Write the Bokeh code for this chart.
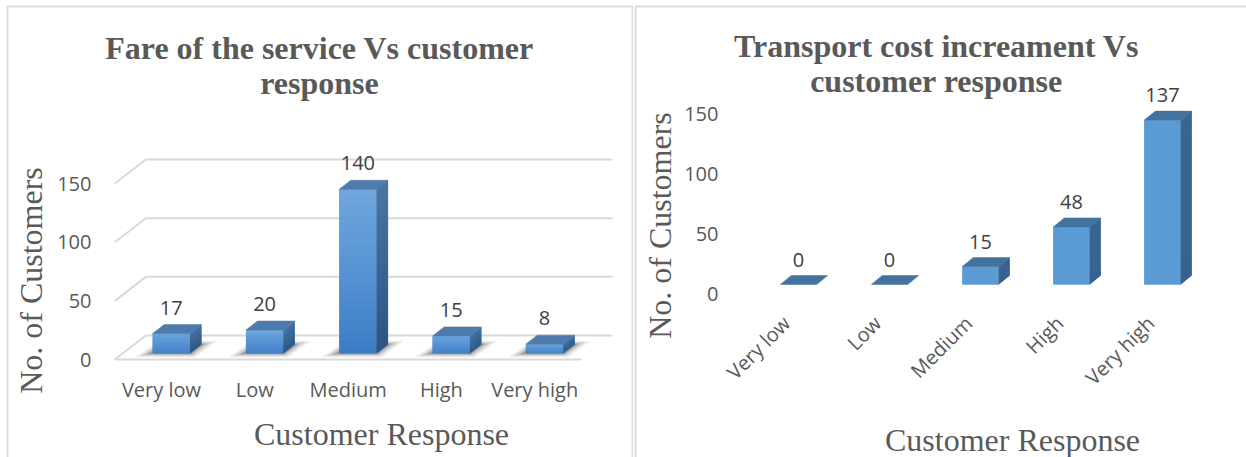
import math
from bokeh.plotting import figure
from bokeh.models import FixedTicker, Label, Range1d
from bokeh.layouts import row
from bokeh.core.properties import value
from bokeh.embed import file_html
from bokeh.resources import INLINE

# ---------------- data ----------------
categories = ["Very low", "Low", "Medium", "High", "Very high"]
fare_counts = [17, 20, 140, 15, 8]
cost_counts = [0, 0, 15, 48, 137]
y_ticks = [0, 50, 100, 150]
fare_title = ["Fare of the service Vs customer", "response"]
cost_title = ["Transport cost increament Vs", "customer response"]
x_title = "Customer Response"
y_title = "No. of Customers"

# ---------------- style ----------------
TICK_FONT = "Open Sans"
SERIF = "Liberation Serif"
GRAY = "#595959"
DARK = "#404040"
GRID = "#d9d9d9"
BORDER = "#dcdcdc"


def hex2rgb(h):
    h = h.lstrip("#")
    return tuple(int(h[i:i + 2], 16) for i in (0, 2, 4))


def mix(c1, c2, t):
    a, b = hex2rgb(c1), hex2rgb(c2)
    return "#%02x%02x%02x" % tuple(int(round(a[i] + (b[i] - a[i]) * t)) for i in range(3))


def make_panel(W, H, cat0, step, zero, ppu, counts, title_lines, title_pos,
               xt_pos, yt_pos, yaxis_px, xaxis_py, bar_off, base, bdx, bdy, lab_gap,
               front, side, top_c, rotate, ystand, xstand, grid, shadow, border):
    X = lambda px: (px - cat0) / step
    Y = lambda py: (zero - py) / ppu
    p = figure(width=W, height=H, output_backend="svg", toolbar_location=None,
               x_range=Range1d(X(0), X(W)), y_range=Range1d(Y(H), Y(0)),
               min_border=0, min_border_left=0, min_border_right=0,
               min_border_top=0, min_border_bottom=0)
    p.title.visible = False
    p.outline_line_color = None
    p.xgrid.visible = False
    p.ygrid.visible = False
    p.background_fill_color = "white"
    p.border_fill_color = "white"

    # panel border
    bx, by = border
    p.line([X(v) for v in bx], [Y(v) for v in by], line_color=BORDER, line_width=2)

    # axes (fixed inside the canvas)
    p.yaxis.ticker = FixedTicker(ticks=y_ticks)
    p.xaxis.ticker = FixedTicker(ticks=list(range(len(categories))))
    p.xaxis.major_label_overrides = {i: c for i, c in enumerate(categories)}
    p.yaxis.fixed_location = X(yaxis_px)
    p.xaxis.fixed_location = Y(xaxis_py)
    for ax in (p.xaxis, p.yaxis):
        ax.axis_line_color = None
        ax.major_tick_line_color = None
        ax.minor_tick_line_color = None
        ax.major_label_text_font = TICK_FONT
        ax.major_label_text_font_size = "20px"
        ax.major_label_text_color = GRAY
    p.yaxis.major_label_standoff = ystand
    p.xaxis.major_label_standoff = xstand
    if rotate:
        p.xaxis.major_label_orientation = math.pi / 4

    hw = 0.2
    n = len(counts)

    # 3D gridlines
    if grid is not None:
        gx0, gx_end = X(grid[0]), X(grid[1])
        gdx = 31 / step
        gdy = 24 / ppu
        xs, ys = [], []
        for t in y_ticks:
            xs.append([gx0, gx0 + gdx, gx_end])
            ys.append([t, t + gdy, t + gdy])
        xs.append([gx0, n - 0.5])
        ys.append([y_ticks[0], y_ticks[0]])
        p.multi_line(xs, ys, line_color=GRID, line_width=2)

    # soft shadows on the floor
    if shadow:
        for ex, ey, al in [(0.17, 3.2, 0.08), (0.11, 2.0, 0.12), (0.05, 0.9, 0.2)]:
            sxs, sys_ = [], []
            for i, v in enumerate(counts):
                x0 = i + bar_off - hw
                x1 = i + bar_off + hw
                sxs.append([x0 - ex - 0.02, x1 + ex * 0.3, x1 + bdx + ex, x0 + bdx - ex * 0.3])
                sys_.append([base - ey, base - ey, base + bdy + ey, base + bdy + ey])
            p.patches(sxs, sys_, fill_color="black", fill_alpha=al, line_color=None)

    # bars: front faces, side faces, top faces
    N = 24
    fl, fr, fb, ft, fc = [], [], [], [], []
    ql, qr, qb, qt, qc = [], [], [], [], []
    pxs, pys, pcs = [], [], []
    sxs, sys_, scs = [], [], []
    txs, tys = [], []
    for i, v in enumerate(counts):
        x0 = i + bar_off - hw
        x1 = i + bar_off + hw
        if v > 0:
            fl.append(x0); fr.append(x1); fb.append(base); ft.append(base + v)
            fc.append(mix(front[0], front[1], 0.5))
            pxs.append([x1, x1 + bdx, x1 + bdx, x1])
            pys.append([base, base + bdy, base + v + bdy, base + v])
            pcs.append(mix(side[0], side[1], 0.5))
            for k in range(N):
                yb = base + v * k / N
                yt = base + v * (k + 1) / N
                tt = (k + 0.5) / N
                ql.append(x0); qr.append(x1); qb.append(yb); qt.append(yt)
                qc.append(mix(front[0], front[1], tt))
                sxs.append([x1, x1 + bdx, x1 + bdx, x1])
                sys_.append([yb, yb + bdy, yt + bdy, yt])
                scs.append(mix(side[0], side[1], tt))
        top = base + v
        txs.append([x0, x1, x1 + bdx, x0 + bdx])
        tys.append([top, top, top + bdy, top + bdy])
    p.quad(left=fl, right=fr, bottom=fb, top=ft, fill_color=fc, line_color=None)
    p.patches(pxs, pys, fill_color=pcs, line_color=None)
    p.quad(left=ql, right=qr, bottom=qb, top=qt, fill_color=qc, line_color=None)
    p.patches(sxs, sys_, fill_color=scs, line_color=None)
    p.patches(txs, tys, fill_color=top_c, line_color=top_c, line_width=0.5)

    # value labels
    p.text(x=[i + bar_off for i in range(n)],
           y=[base + v + bdy + lab_gap for v in counts],
           text=[str(v) for v in counts],
           text_font=value(TICK_FONT), text_font_size="20px", text_color=DARK,
           text_align="center", text_baseline="middle")

    # titles
    for line, mid in zip(title_lines, title_pos[1]):
        p.add_layout(Label(x=X(title_pos[0]), y=Y(mid), text=line, text_font=SERIF,
                           text_font_style="bold", text_font_size="32px",
                           text_color=GRAY, text_align="center",
                           text_baseline="middle"))
    p.add_layout(Label(x=X(xt_pos[0]), y=Y(xt_pos[1]), text=x_title, text_font=SERIF,
                       text_font_size="32px", text_color=GRAY, text_align="center",
                       text_baseline="middle"))
    p.add_layout(Label(x=X(yt_pos[0]), y=Y(yt_pos[1]), text=y_title, text_font=SERIF,
                       text_font_size="32px", text_color=GRAY, text_align="center",
                       text_baseline="middle", angle=math.pi / 2))
    return p


H = 457
W1 = 633
p1 = make_panel(W=W1, H=H, cat0=161, step=93.3, zero=359, ppu=1.1733,
                counts=fare_counts, title_lines=fare_title,
                title_pos=(319, (47, 82)), xt_pos=(381, 433), yt_pos=(30, 280),
                yaxis_px=114, xaxis_py=361,
                bar_off=0.105, base=5.1, bdx=11.5 / 93.3, bdy=9 / 1.1733,
                lab_gap=17 / 1.1733,
                front=("#3c7cc6", "#70a8df"), side=("#2a5582", "#4b76a3"),
                top_c="#4e7bab", rotate=False, ystand=17, xstand=8,
                grid=(114.3, 612), shadow=True,
                border=((7, 7, 632, 632), (460, 6, 6, 460)))

O2 = W1
p2 = make_panel(W=1246 - O2, H=H, cat0=786 - O2, step=91, zero=293, ppu=1.2,
                counts=cost_counts, title_lines=cost_title,
                title_pos=(936 - O2, (45, 80)), xt_pos=(1012 - O2, 439),
                yt_pos=(659 - O2, 225), yaxis_px=736 - O2, xaxis_py=301,
                bar_off=12 / 91, base=7.5, bdx=11 / 91, bdy=9 / 1.2, lab_gap=16 / 1.2,
                front=("#5b9bd5", "#5b9bd5"), side=("#386390", "#3a6691"),
                top_c="#44729f", rotate=True, ystand=12, xstand=12,
                grid=None, shadow=False,
                border=((2, 2, 620), (460, 6, 6)))

layout = row(p1, p2)
open("out.html", "w").write(file_html(layout, INLINE))
